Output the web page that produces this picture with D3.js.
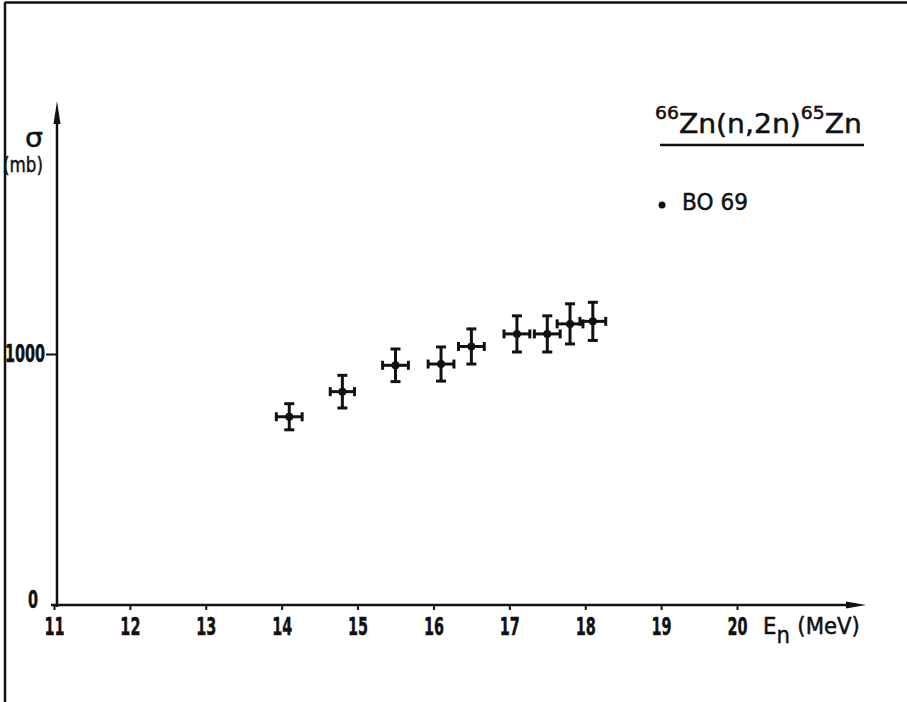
<!DOCTYPE html>
<html>
<head>
<meta charset="utf-8">
<script src="https://cdn.jsdelivr.net/npm/d3@7"></script>
<style>
  html, body { margin: 0; padding: 0; background: #fff; }
  svg { display: block; }
  text { font-family: "DejaVu Sans", sans-serif; fill: #111; stroke: #111; stroke-width: 0.5; }
</style>
</head>
<body>
<svg id="chart" width="907" height="702"></svg>
<script>
// ---- data ----
const energies   = [14.1, 14.8, 15.5, 16.1, 16.5, 17.1, 17.5, 17.8, 18.1];   // MeV
const sigmas     = [750, 850, 955, 960, 1030, 1080, 1080, 1120, 1130];      // mb
const sigmaErr   = [52, 65, 65, 68, 70, 72, 72, 80, 76];                    // mb
const energyErr  = [0.17, 0.16, 0.17, 0.17, 0.17, 0.17, 0.17, 0.17, 0.17];   // MeV
const xTicks     = [11, 12, 13, 14, 15, 16, 17, 18, 19, 20];
const yTicks     = [0, 1000];
const legendLabel = "BO 69";

const svg = d3.select("#chart");
const ink = "#111";
const narrow = 0.6;

const x = d3.scaleLinear().domain([11, 20]).range([54, 737]);
const y = d3.scaleLinear().domain([0, 2000]).range([605, 103]);

// place a text group so that it spans [left, left+width]
function fitText(g, left, width) {
  const b = g.node().getBBox();
  const s = width / b.width;
  g.attr("transform", `translate(${left - b.x * s},0) scale(${s},1)`);
}

// frame (left and top border of the scanned page)
svg.append("line").attr("x1", 5).attr("x2", 5).attr("y1", 2).attr("y2", 702)
  .attr("stroke", ink).attr("stroke-width", 2.5);
svg.append("line").attr("x1", 5).attr("x2", 907).attr("y1", 2.5).attr("y2", 2.5)
  .attr("stroke", ink).attr("stroke-width", 2.5);

// x axis
const xAxis = svg.append("g").attr("transform", `translate(0,${y(0)})`)
  .call(d3.axisBottom(x).tickValues(xTicks).tickSize(5).tickPadding(8).tickFormat(d3.format("d")));
xAxis.select(".domain").remove();
xAxis.selectAll(".tick line").attr("stroke", ink).attr("stroke-width", 2);
xAxis.selectAll(".tick text").attr("font-size", 24).attr("font-weight", "bold")
  .attr("transform", `scale(${narrow},1)`).style("fill", ink);

svg.append("line").attr("x1", 51).attr("x2", 852).attr("y1", y(0)).attr("y2", y(0))
  .attr("stroke", ink).attr("stroke-width", 2.5);
svg.append("path").attr("d", `M846,${y(0)-3.5} L866,${y(0)} L846,${y(0)+3.5} Z`).attr("fill", ink);

// y axis
const yx = x(11) + 3;
const yAxis = svg.append("g").attr("transform", `translate(${yx},0)`)
  .call(d3.axisLeft(y).tickValues(yTicks).tickSize(11).tickPadding(1).tickFormat(d3.format("d")));
yAxis.select(".domain").remove();
yAxis.selectAll(".tick line").attr("stroke", ink).attr("stroke-width", 2)
  .filter(d => d === 0).remove();
yAxis.selectAll(".tick text").attr("font-size", 24).attr("font-weight", "bold").style("fill", ink)
  .attr("x", -12 / narrow).attr("transform", `scale(${narrow},1)`);
yAxis.selectAll(".tick text").filter(d => d === 0).attr("x", -19 / narrow).attr("dy", "0.1em");

svg.append("line").attr("x1", yx).attr("x2", yx).attr("y1", y(0) + 2).attr("y2", 118)
  .attr("stroke", ink).attr("stroke-width", 2.5);
svg.append("path").attr("d", `M${yx-3.5},124 L${yx},101 L${yx+3.5},124 Z`).attr("fill", ink);

// y label
const gs = svg.append("g");
gs.append("text").attr("y", 147).attr("font-size", 26).text("σ");
fitText(gs, 25, 18);
const gmb = svg.append("g");
gmb.append("text").attr("y", 172).attr("font-size", 22).text("(mb)");
fitText(gmb, 3, 40);

// x label
const gxl = svg.append("g");
const xl = gxl.append("text").attr("y", 634).attr("font-size", 23);
xl.append("tspan").text("E");
xl.append("tspan").attr("dy", 9).text("n");
xl.append("tspan").attr("dy", -9).attr("dx", 8).text("(MeV)");
fitText(gxl, 763, 97);

// title
const gt = svg.append("g");
const title = gt.append("text").attr("y", 133).attr("font-size", 27);
title.append("tspan").attr("font-size", 18).attr("dy", -14).text("66");
title.append("tspan").attr("dy", 14).text("Zn(n,2n)");
title.append("tspan").attr("font-size", 18).attr("dy", -14).text("65");
title.append("tspan").attr("dy", 14).text("Zn");
fitText(gt, 655, 207);
svg.append("line").attr("x1", 660).attr("x2", 864).attr("y1", 145).attr("y2", 145)
  .attr("stroke", ink).attr("stroke-width", 2.5);

// legend
svg.append("circle").attr("cx", 662).attr("cy", 205).attr("r", 3.5).attr("fill", ink);
const gl = svg.append("g");
gl.append("text").attr("y", 210).attr("font-size", 23).text(legendLabel);
fitText(gl, 682, 66);

// data points with error bars
const data = energies.map((e, i) => ({ e, s: sigmas[i], ds: sigmaErr[i], de: energyErr[i] }));
const pts = svg.append("g").attr("stroke", ink).attr("stroke-width", 3).attr("fill", ink);
const g = pts.selectAll("g").data(data).join("g");
g.append("line").attr("x1", d => x(d.e)).attr("x2", d => x(d.e))
  .attr("y1", d => y(d.s - d.ds)).attr("y2", d => y(d.s + d.ds));
g.append("line").attr("x1", d => x(d.e - d.de)).attr("x2", d => x(d.e + d.de))
  .attr("y1", d => y(d.s)).attr("y2", d => y(d.s));
g.append("line").attr("x1", d => x(d.e) - 5).attr("x2", d => x(d.e) + 5)
  .attr("y1", d => y(d.s + d.ds)).attr("y2", d => y(d.s + d.ds));
g.append("line").attr("x1", d => x(d.e) - 5).attr("x2", d => x(d.e) + 5)
  .attr("y1", d => y(d.s - d.ds)).attr("y2", d => y(d.s - d.ds));
g.append("line").attr("x1", d => x(d.e - d.de)).attr("x2", d => x(d.e - d.de))
  .attr("y1", d => y(d.s) - 4.5).attr("y2", d => y(d.s) + 4.5);
g.append("line").attr("x1", d => x(d.e + d.de)).attr("x2", d => x(d.e + d.de))
  .attr("y1", d => y(d.s) - 4.5).attr("y2", d => y(d.s) + 4.5);
g.append("circle").attr("cx", d => x(d.e)).attr("cy", d => y(d.s)).attr("r", 4).attr("stroke", "none");
</script>
</body>
</html>
